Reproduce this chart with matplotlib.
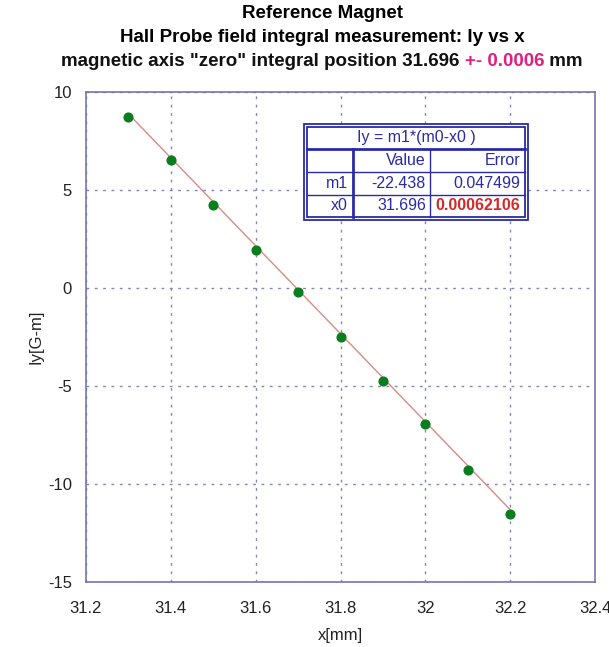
import matplotlib
matplotlib.use("Agg")
import numpy as np
import matplotlib.pyplot as plt
from matplotlib.lines import Line2D

plt.rcParams['font.family'] = ['Liberation Sans', 'DejaVu Sans']
plt.rcParams['axes.unicode_minus'] = False

# measured points
x_mm = [31.3, 31.4, 31.5, 31.6, 31.7, 31.8, 31.9, 32.0, 32.1, 32.2]
iy = [8.72, 6.52, 4.26, 1.96, -0.19, -2.50, -4.75, -6.96, -9.31, -11.52]

# fit results
m1_val, m1_err = -22.438, 0.047499
x0_val, x0_err = 31.696, 0.00062106

x_ticks = [31.2, 31.4, 31.6, 31.8, 32.0, 32.2, 32.4]
x_ticklabels = ['31.2', '31.4', '31.6', '31.8', '32', '32.2', '32.4']
y_ticks = [-15, -10, -5, 0, 5, 10]

W, H = 609, 647
fig = plt.figure(figsize=(W / 100, H / 100), dpi=100)
fig.patch.set_facecolor('white')
ax = fig.add_axes([86 / W, 1 - 582 / H, (595 - 86) / W, (582 - 92) / H])

spine_col = '#7474b0'
grid_col = '#8585b8'

xf = np.array([x_mm[0], x_mm[-1]])
ax.plot(xf, m1_val * (xf - x0_val), color='#d88c84', lw=1.0, zorder=2)
ax.plot(x_mm, iy, 'o', color='#0a7d1e', ms=6.3, zorder=3)

ax.set_xlim(31.2, 32.4)
ax.set_ylim(-15, 10)
ax.set_xticks(x_ticks)
ax.set_xticklabels(x_ticklabels)
ax.set_yticks(y_ticks)
ax.tick_params(length=0, labelsize=12, pad=10, colors='#222222')
ax.tick_params(axis='x', pad=14)
ax.grid(True, color=grid_col, ls=(0, (2, 4)), lw=1.0)
for s in ax.spines.values():
    s.set_color(spine_col)
    s.set_linewidth(1.2)
ax.set_xlabel('x[mm]', fontsize=12, labelpad=8, color='#222222')
ax.set_ylabel('Iy[G-m]', fontsize=12, labelpad=3, color='#222222')

# title
tfs = 13.5
cx = (W + 35) / 2
fig.text(cx / W, 1 - 13 / H, 'Reference Magnet', ha='center', va='center',
         fontsize=tfs, fontweight='bold')
fig.text(cx / W, 1 - 38 / H, 'Hall Probe field integral measurement: Iy vs x',
         ha='center', va='center', fontsize=tfs, fontweight='bold')
parts = [('magnetic axis "zero" integral position %.3f ' % x0_val, '#111111'),
         ('+- %.4f' % 0.0006, '#e0207f'),
         (' mm', '#111111')]
fig.canvas.draw()
r = fig.canvas.get_renderer()
full = fig.text(0, 0, ''.join(p[0] for p in parts), fontsize=tfs, fontweight='bold')
wfull = full.get_window_extent(r).width
full.remove()
xpos = cx - wfull / 2
for txt, col in parts:
    t = fig.text(xpos / W, 1 - 62 / H, txt, ha='left', va='center', fontsize=tfs,
                 fontweight='bold', color=col)
    xpos += t.get_window_extent(r).width

# fit table
tcol = '#2a2aa8'
def fx(px):
    return px / W
def fy(py):
    return 1 - py / H
def hline(x1, x2, y, lw):
    fig.add_artist(Line2D([fx(x1), fx(x2)], [fy(y), fy(y)], color=tcol, lw=lw))
def vline(x, y1, y2, lw):
    fig.add_artist(Line2D([fx(x), fx(x)], [fy(y1), fy(y2)], color=tcol, lw=lw))

L, R, T, B = 304, 528, 124, 220
fig.add_artist(plt.Rectangle((fx(L), fy(B)), fx(R) - fx(L), fy(T) - fy(B),
                             facecolor='white', edgecolor=tcol, lw=1.3))
fig.add_artist(plt.Rectangle((fx(L + 3), fy(B - 3)), fx(R - 3) - fx(L + 3), fy(T + 3) - fy(B - 3),
                             facecolor='none', edgecolor=tcol, lw=1.3))
hline(L + 3, R - 3, 149, 2.0)
hline(L + 3, R - 3, 172, 1.0)
hline(L + 3, R - 3, 195, 1.0)
vline(353, 149, B - 3, 2.0)
vline(430, 149, B - 3, 1.0)

fs = 11.5
fig.text(fx((L + R) / 2), fy(137), 'Iy = m1*(m0-x0 )', ha='center', va='center',
         fontsize=fs, color=tcol)
fig.text(fx(426), fy(160.5), 'Value', ha='right', va='center', fontsize=fs, color=tcol)
fig.text(fx(520), fy(160.5), 'Error', ha='right', va='center', fontsize=fs, color=tcol)
fig.text(fx(348), fy(183.5), 'm1', ha='right', va='center', fontsize=fs, color=tcol)
fig.text(fx(426), fy(183.5), '%.3f' % m1_val, ha='right', va='center', fontsize=fs, color=tcol)
fig.text(fx(520), fy(183.5), '%g' % m1_err, ha='right', va='center', fontsize=fs, color=tcol)
fig.text(fx(348), fy(206), 'x0', ha='right', va='center', fontsize=fs, color=tcol)
fig.text(fx(426), fy(206), '%.3f' % x0_val, ha='right', va='center', fontsize=fs, color=tcol)
fig.text(fx(520), fy(206), '%.8f' % x0_err, ha='right', va='center', fontsize=fs,
         color='#d42a2a', fontweight='bold')

fig.savefig('out.png', dpi=100)
